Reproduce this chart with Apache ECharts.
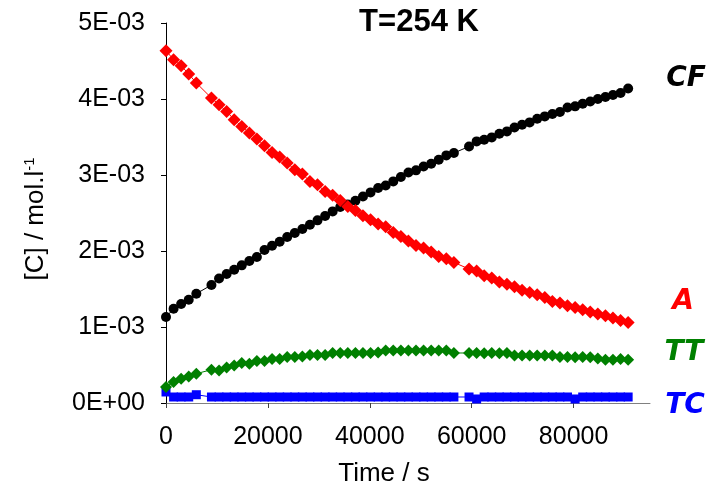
<!DOCTYPE html>
<html><head><meta charset="utf-8">
<script src="https://cdn.jsdelivr.net/npm/echarts@6/dist/echarts.min.js"></script>
<style>html,body{margin:0;padding:0;background:#fff}#c{width:727px;height:489px}</style>
</head><body><div id="c"></div>
<script>
// time (s) of each sample
const times = [0,1490,2970,4460,5950,7440,8920,10410,11900,13380,
  14870,16360,17840,19330,20820,22310,23790,25280,26770,28250,
  29740,31230,32710,34200,35690,37180,38660,40150,41640,43120,
  44610,46100,47580,49070,50560,52050,53530,55020,56510,57990,
  59480,60970,62450,63940,65430,66920,68400,69890,71380,72860,
  74350,75840,77320,78810,80300,81790,83270,84760,86250,87730,
  89220,90710];
// concentrations in mmol/l (null = no sample)
const A_mM = [4.636,4.517,4.438,4.329,4.211,null,4.013,3.925,3.837,3.728,
  3.639,3.553,3.474,3.386,3.297,3.237,3.158,3.070,3.013,2.916,
  2.872,2.784,2.732,2.666,2.587,2.534,2.464,2.412,2.355,2.320,
  2.245,2.192,2.132,2.074,2.039,1.987,1.929,1.899,1.850,null,
  1.763,1.737,1.675,1.645,1.592,1.561,1.530,1.482,1.455,1.425,
  1.389,1.337,1.316,1.280,1.258,1.228,1.197,1.171,1.149,1.118,
  1.087,1.060];
const CF_mM = [1.132,1.241,1.303,1.359,1.438,null,1.553,1.639,1.697,1.754,
  1.811,1.868,1.921,2.013,2.070,2.122,2.184,2.237,2.289,2.346,
  2.403,2.461,2.521,2.579,2.613,2.662,2.718,2.771,2.829,2.863,
  2.916,2.974,3.034,3.061,3.113,3.149,3.201,3.258,3.289,null,
  3.376,3.442,3.464,3.495,3.543,3.574,3.626,3.662,3.692,3.741,
  3.771,3.803,3.829,3.889,3.903,3.938,3.968,4.000,4.026,4.053,
  4.079,4.139];
const TT_mM = [0.211,0.276,0.320,0.350,0.386,null,0.438,0.429,0.468,0.495,
  0.526,0.517,0.553,0.553,0.579,0.579,0.605,0.605,0.613,0.632,
  0.632,0.632,0.658,0.658,0.658,0.658,0.658,0.658,0.666,0.692,
  0.692,0.690,0.692,0.690,0.692,0.690,0.692,0.690,0.658,null,
  0.658,0.658,0.655,0.658,0.655,0.658,0.626,0.626,0.624,0.626,
  0.624,0.626,0.605,0.605,0.603,0.605,0.603,0.587,0.570,0.570,
  0.579,0.570];
const TC_mM = [0.145,0.079,0.079,0.079,0.109,null,0.079,0.079,0.079,0.079,
  0.079,0.079,0.079,0.079,0.079,0.079,0.079,0.079,0.079,0.079,
  0.079,0.079,0.079,0.079,0.079,0.079,0.079,0.079,0.079,0.079,
  0.079,0.079,0.079,0.079,0.079,0.079,0.079,0.079,0.079,null,
  0.079,0.053,0.079,0.079,0.079,0.079,0.079,0.079,0.079,0.079,
  0.079,0.079,0.079,0.079,0.053,0.079,0.079,0.079,0.079,0.079,
  0.079,0.079];
const xTickValues = [0,20000,40000,60000,80000];
const title = 'T=254 K';
const seriesNames = ['CF','A','TT','TC'];
const seriesColors = ['#000000','#ff0000','#008000','#0000ff'];

function pts(arr){
  return times.map((t,i)=>[t, arr[i]==null?null:arr[i]/1000]).filter(p=>p[1]!=null);
}
function fmtE(v){
  if (v === 0) return '0E+00';
  const e = Math.floor(Math.log10(v) + 1e-9);
  const m = Math.round(v/Math.pow(10,e));
  return m + 'E' + (e<0?'-':'+') + String(Math.abs(e)).padStart(2,'0');
}
const chart = echarts.init(document.getElementById('c'), null, {renderer:'canvas'});
const font = "'Liberation Sans', Arial, sans-serif";
function mk(name, arr, color, symbol, size){
  return {name, type:'line', data:pts(arr), symbol, symbolSize:size,
    itemStyle:{color}, lineStyle:{color, width:1}, showSymbol:true,
    animation:false, emphasis:{disabled:true}};
}
chart.setOption({
  animation:false,
  grid:{left:166, right:77, top:23, bottom:86, containLabel:false},
  xAxis:{type:'value', min:0, max:95000,
    axisLine:{show:true, lineStyle:{color:'#808080', width:1}},
    axisTick:{show:true, length:5, inside:false, customValues:xTickValues, lineStyle:{color:'#404040'}},
    axisLabel:{customValues:xTickValues, formatter:v=>String(v), fontSize:25, fontFamily:font, color:'#000', margin:22},
    splitLine:{show:false}},
  yAxis:{type:'value', min:0, max:0.005, interval:0.001,
    axisLine:{show:true, lineStyle:{color:'#000', width:1}},
    axisTick:{show:true, length:5, lineStyle:{color:'#000'}},
    axisLabel:{formatter:fmtE, fontSize:25, fontFamily:font, color:'#000', margin:21},
    splitLine:{show:false}},
  series:[
    mk(seriesNames[0], CF_mM, seriesColors[0], 'circle', 10),
    mk(seriesNames[3], TC_mM, seriesColors[3], 'rect', [9,9]),
    mk(seriesNames[2], TT_mM, seriesColors[2], 'diamond', 12),
    mk(seriesNames[1], A_mM, seriesColors[1], 'diamond', 13)
  ],
  graphic:[
    {type:'text', x:419, y:22, style:{text:title, font:"bold 31px 'Liberation Sans', Arial, sans-serif", fill:'#000', textAlign:'center', textVerticalAlign:'middle'}},
    {type:'text', x:384, y:474, style:{text:'Time / s', font:"26px 'Liberation Sans', Arial, sans-serif", fill:'#000', textAlign:'center', textVerticalAlign:'middle'}},
    {type:'text', x:36, y:219, rotation:Math.PI/2, style:{
      text:'[C] / mol.l{sup|-1}', font:"26px 'Liberation Sans', Arial, sans-serif", fill:'#000', textAlign:'center', textVerticalAlign:'middle',
      rich:{sup:{fontSize:15, fontFamily:"'Liberation Sans', Arial, sans-serif", fill:'#000', verticalAlign:'top', padding:[0,0,12,0]}}}},
    {type:'text', x:686, y:79, style:{text:seriesNames[0], font:"italic bold 28px 'DejaVu Sans', sans-serif", fill:seriesColors[0], textAlign:'center', textVerticalAlign:'middle'}},
    {type:'text', x:683, y:302, style:{text:seriesNames[1], font:"italic bold 28px 'DejaVu Sans', sans-serif", fill:seriesColors[1], textAlign:'center', textVerticalAlign:'middle'}},
    {type:'text', x:684, y:353, style:{text:seriesNames[2], font:"italic bold 28px 'DejaVu Sans', sans-serif", fill:seriesColors[2], textAlign:'center', textVerticalAlign:'middle'}},
    {type:'text', x:685, y:406, style:{text:seriesNames[3], font:"italic bold 28px 'DejaVu Sans', sans-serif", fill:seriesColors[3], textAlign:'center', textVerticalAlign:'middle'}}
  ]
});
</script></body></html>
